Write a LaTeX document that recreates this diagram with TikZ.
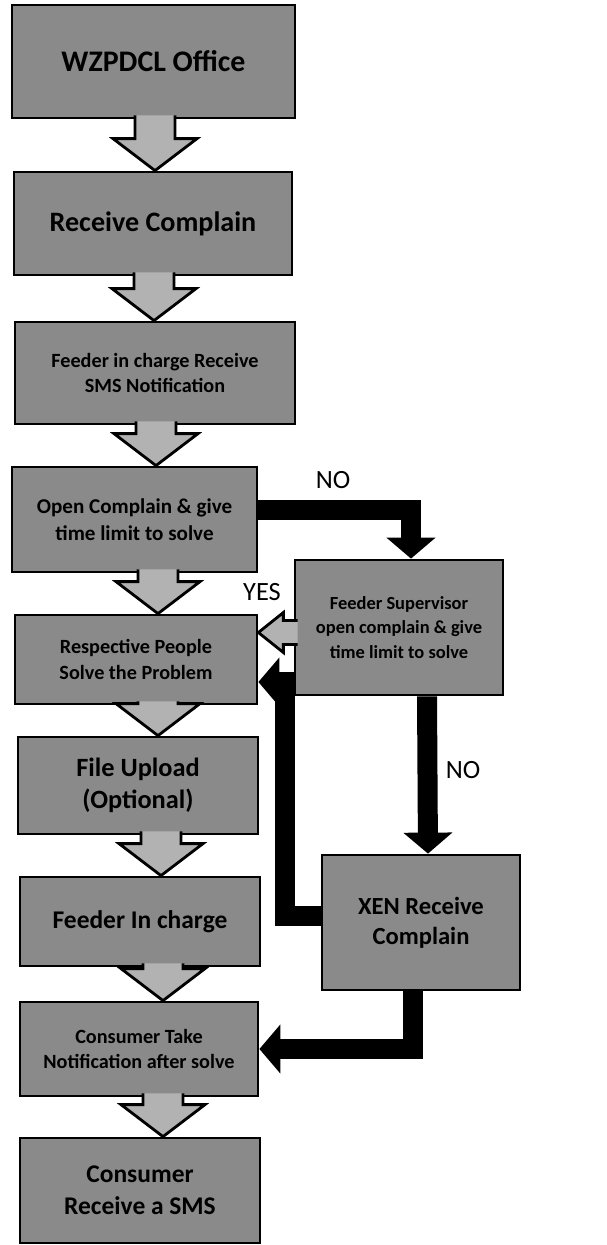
\documentclass[tikz,border=0pt]{standalone}
\usepackage{fontspec}
\setmainfont{Carlito}
\usetikzlibrary{calc,arrows.meta}
\newcommand{\fs}[2]{\fontsize{#1}{#2}\selectfont\bfseries}
\newcommand{\downflow}[3]{%
  \filldraw[flow] ($(#3,0 |- #1.south)+(-20,4)$) -- ($(#3,0 |- #2.north)+(-20,32)$)
    -- ++(-22,0) -- (#3,0 |- #2.north) -- ++(42,32) -- ++(-22,0)
    -- ($(#3,0 |- #1.south)+(20,4)$);}

\begin{document}
\begin{tikzpicture}[x=0.02cm, y=0.02cm,
    box/.style={draw=black, line width=1.6pt, fill=black!46, inner sep=0pt, align=center, text=black},
    flow/.style={draw=black, line width=1.6pt, fill=black!30, line join=miter},
    elbow/.style={line width=0.4cm, -{Triangle[width=0.96cm,length=0.42cm]}},
    lbl/.style={font=\fontsize{15}{18}\selectfont}]
  \useasboundingbox (0,0) rectangle (607,-1245);
  % main column
  \node[box, minimum width=5.66cm, minimum height=2.26cm, font=\fs{17}{20}] (office) at (153.5,-61.5) {WZPDCL Office};
  \node[box, minimum width=5.56cm, minimum height=2.06cm, font=\fs{16}{19}] (recv) at (153,-223.5) {Receive Complain};
  \node[box, minimum width=5.6cm, minimum height=2.04cm, font=\fs{11.5}{14}] (notify) at (155,-373) {Feeder in charge Receive\\SMS Notification};
  \node[box, minimum width=4.9cm, minimum height=2.1cm, font=\fs{12}{15}] (open) at (134.5,-519.5) {Open Complain \& give\\time limit to solve};
  \node[box, minimum width=4.84cm, minimum height=1.78cm, font=\fs{11.5}{14.5}] (solve) at (136,-659.5) {Respective People\\Solve the Problem};
  \node[box, minimum width=4.8cm, minimum height=1.94cm, font=\fs{15}{18}] (upload) at (138,-785.5) {File Upload\\(Optional)};
  \node[box, minimum width=4.8cm, minimum height=1.78cm, font=\fs{14.5}{17}] (incharge) at (140,-921.5) {Feeder In charge};
  \node[box, minimum width=4.76cm, minimum height=1.88cm, font=\fs{11.5}{14.5}] (take) at (139,-1049) {Consumer Take\\Notification after solve};
  \node[box, minimum width=4.8cm, minimum height=2.1cm, font=\fs{14.5}{18}] (sms) at (140,-1190.5) {Consumer\\Receive a SMS};
  % side branch
  \node[box, minimum width=4.16cm, minimum height=2.7cm, font=\fs{10.5}{14}] (sup) at (399,-627.5) {Feeder Supervisor\\open complain \& give\\time limit to solve};
  \node[box, minimum width=3.96cm, minimum height=2.7cm, font=\fs{14}{17}] (xen) at (421,-922.5) {XEN Receive\\Complain};

  \downflow{office}{recv}{155}
  \downflow{recv}{notify}{154}
  \downflow{notify}{open}{156}
  \downflow{open}{solve}{158}
  \downflow{solve}{upload}{158}
  \downflow{upload}{incharge}{161}
  \downflow{incharge}{take}{163}
  \downflow{take}{sms}{163}

  % yes arrow back to the main column
  \coordinate (ys) at ($(sup.west)+(0,-5)$);
  \coordinate (yt) at (solve.east |- ys);
  \filldraw[flow] ($(ys)+(4,12)$) -- ($(yt)+(25,12)$) -- ($(yt)+(25,20)$) -- (yt)
    -- ($(yt)+(25,-20)$) -- ($(yt)+(25,-12)$) -- ($(ys)+(4,-12)$);

  \draw[elbow] ($(open.east)+(0,10)$) -| ($(sup.north)+(12,0)$);
  \draw[elbow] ($(sup.south)+(28,0)$) -- ($(xen.north)+(7,0)$);
  \coordinate (loop) at (285,-682);
  \draw[elbow] ($(xen.west)+(0,7)$) -| (loop) -- (loop -| solve.east);
  \draw[elbow] ($(xen.south)+(-8,0)$) |- (take.east);

  \node[lbl] (no1) at (333,-480) {NO};
  \node[lbl] (yes) at (262,-592) {YES};
  \node[lbl] (no2) at (463,-770) {NO};
\end{tikzpicture}
\end{document}
